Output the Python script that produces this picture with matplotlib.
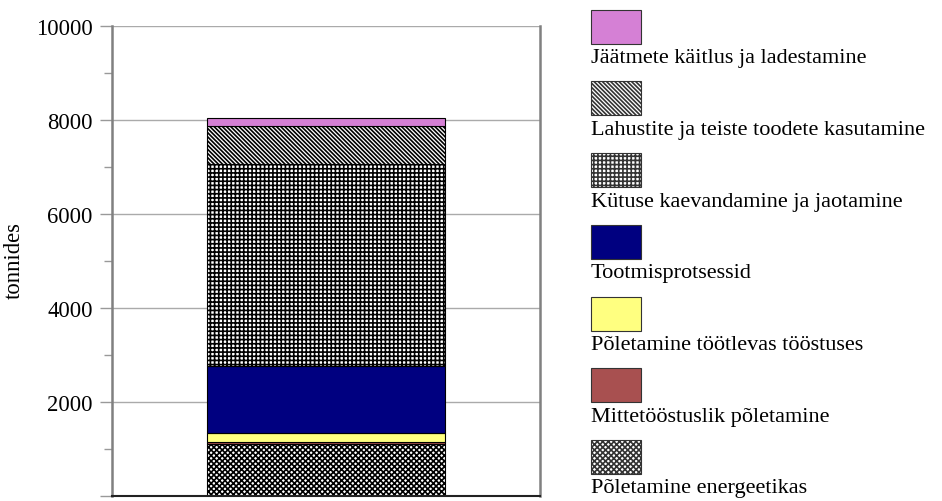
import matplotlib.pyplot as plt
from matplotlib.patches import Rectangle

plt.rcParams['font.family'] = ['Liberation Serif', 'DejaVu Serif']
plt.rcParams['hatch.linewidth'] = 1.2

# sektorid alt üles
sektorid = ["Põletamine energeetikas", "Mittetööstuslik põletamine",
            "Põletamine töötlevas tööstuses", "Tootmisprotsessid",
            "Kütuse kaevandamine ja jaotamine",
            "Lahustite ja teiste toodete kasutamine",
            "Jäätmete käitlus ja ladestamine"]
vaartused = [1105, 50, 180, 1425, 4305, 800, 180]
varvid = ["white", "#A85050", "#FFFF80", "#000080", "white", "white", "#D580D5"]
mustrid = ["xxxxxx", None, None, None, "++++", "\\" * 8, None]

fig = plt.figure(figsize=(9.42, 5.02), dpi=100)
ax = fig.add_axes([112/942, 5/502, 428/942, 470/502])

alus = 0
for v, c, h in zip(vaartused, varvid, mustrid):
    ax.bar(0, v, width=0.554, bottom=alus, color=c, hatch=h,
           edgecolor="black", linewidth=0.8)
    alus += v

ax.set_xlim(-0.5, 0.5)
ax.set_ylim(0, 10000)
ax.set_yticks([0, 2000, 4000, 6000, 8000, 10000])
ax.set_yticklabels(["", "2000", "4000", "6000", "8000", "10000"])
ax.set_yticks(range(1000, 10000, 2000), minor=True)
ax.set_xticks([])
ax.tick_params(axis="y", which="major", length=9, width=1, color="#999999",
               labelsize=16.3, pad=5)
ax.tick_params(axis="y", which="minor", length=6, width=1, color="#999999")
ax.yaxis.grid(True, color="#aaaaaa", linewidth=1)
ax.set_axisbelow(True)
ax.spines["left"].set_color("#808080")
ax.spines["left"].set_linewidth(1.8)
ax.spines["right"].set_color("#808080")
ax.spines["right"].set_linewidth(1.8)
ax.spines["top"].set_visible(False)
ax.spines["bottom"].set_color("#222222")
ax.spines["bottom"].set_linewidth(1.5)
ax.set_ylabel("tonnides", fontsize=16.3)
ax.yaxis.set_label_coords(-0.203, 0.504)

# legend käsitsi: ruut ja tekst selle all
for i in range(len(sektorid)):
    j = len(sektorid) - 1 - i
    top = 10.7 + i * 71.7
    fig.patches.append(Rectangle((591/942, 1 - (top + 34)/502), 50/942, 34/502,
                                 transform=fig.transFigure, facecolor=varvid[j],
                                 hatch=mustrid[j], edgecolor="#333333",
                                 linewidth=0.8))
    fig.text(591/942, 1 - (top + 52.5)/502, sektorid[j], fontsize=16,
             va="baseline", ha="left")

fig.savefig("out.png", dpi=100)
